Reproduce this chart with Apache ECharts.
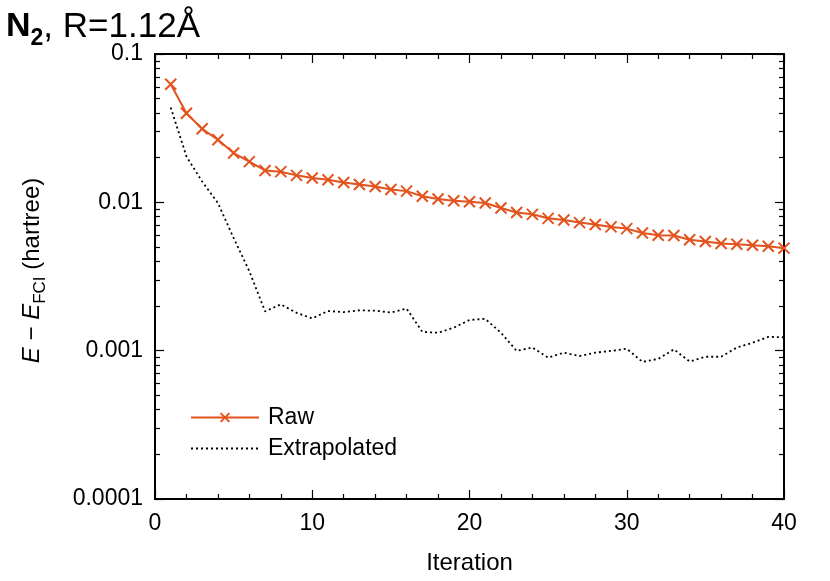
<!DOCTYPE html>
<html lang="en">
  <head>
    <meta charset="utf-8" />
    <title>N2 convergence</title>
    <script src="https://cdn.jsdelivr.net/npm/echarts@6/dist/echarts.min.js"></script>
    <style>
      html,
      body {
        margin: 0;
        padding: 0;
        background: #fff;
      }
      #chart1 {
        width: 830px;
        height: 581px;
      }
    </style>
  </head>
  <body>
    <div id="chart1"></div>
    <script type="text/javascript">
      var iterations = [];
      for (var i = 1; i <= 40; i++) iterations.push(i);

      var rawErr = [
        0.0625, 0.0399, 0.0313, 0.0264, 0.0215, 0.0188, 0.0164, 0.0161,
        0.0152, 0.0146, 0.0142, 0.0136, 0.0132, 0.0128, 0.0122, 0.0119,
        0.011, 0.01054, 0.01026, 0.0101, 0.0099, 0.00916, 0.00853, 0.0083,
        0.0078, 0.0076, 0.0073, 0.00708, 0.00683, 0.00665, 0.00622, 0.006,
        0.00597, 0.0056, 0.00544, 0.00528, 0.00522, 0.00514, 0.00506,
        0.00491,
      ];
      var extrapErr = [
        0.0436, 0.0204, 0.0138, 0.0099, 0.00575, 0.00343, 0.00184, 0.00205,
        0.0018, 0.00165, 0.00185, 0.00182, 0.00187, 0.00186, 0.00181,
        0.00192, 0.00134, 0.00132, 0.00143, 0.00161, 0.00164, 0.00132,
        0.000996, 0.00105, 0.000898, 0.00097, 0.00092, 0.00097, 0.000996,
        0.00103, 0.00084, 0.00088, 0.00102, 0.000845, 0.00091, 0.00091,
        0.00105, 0.00113, 0.00124, 0.00123,
      ];
      var yMajorTicks = [0.0001, 0.001, 0.01, 0.1];
      var yTickLabels = ["0.0001", "0.001", "0.01", "0.1"];
      var yMinorTicks = [];
      for (var e = -4; e < -1; e++) {
        for (var m = 2; m <= 9; m++) yMinorTicks.push(m * Math.pow(10, e));
      }

      var orange = "#e2531d";
      var font = "Liberation Sans, Arial, sans-serif";

      function pair(v) {
        var out = [];
        for (var k = 0; k < v.length; k++) out.push([iterations[k], v[k]]);
        return out;
      }

      // log axis; ticks placed at the given values
      function yAxisDef(pos, ticks, len, labels) {
        return {
          type: "log",
          logBase: 10,
          min: 0.0001,
          max: 0.1,
          position: pos,
          axisLine: { show: true, lineStyle: { color: "#000", width: 2 } },
          axisTick: {
            show: true,
            inside: true,
            length: len,
            customValues: ticks,
            lineStyle: { color: "#000", width: 1.2 },
          },
          axisLabel: labels
            ? {
                show: true,
                customValues: yMajorTicks,
                color: "#000",
                fontFamily: font,
                fontSize: 23,
                margin: 12,
                formatter: function (v) {
                  return yTickLabels[Math.round(Math.log10(v)) + 4];
                },
              }
            : { show: false },
          splitLine: { show: false },
          minorTick: { show: false },
        };
      }

      var myChart = echarts.init(document.getElementById("chart1"));
      myChart.setOption({
        animation: false,
        title: {
          left: 1,
          top: -1,
          text: "{b|N}{bs|2}{n|, R=1.12Å}",
          textStyle: {
            rich: {
              b: { fontFamily: font, fontSize: 34, fontWeight: "bold", color: "#000", lineHeight: 46, verticalAlign: "middle" },
              bs: { fontFamily: font, fontSize: 23, fontWeight: "bold", color: "#000", lineHeight: 46, verticalAlign: "bottom" },
              n: { fontFamily: font, fontSize: 35, fontWeight: "normal", color: "#000", lineHeight: 46, verticalAlign: "middle" },
            },
          },
        },
        legend: {
          orient: "vertical",
          left: 185,
          top: 401,
          itemWidth: 68,
          itemHeight: 11,
          itemGap: 8,
          textStyle: {
            color: "#000",
            fontFamily: font,
            fontSize: 23,
            padding: [0, 0, 0, 4],
          },
          data: [
            { name: "Raw" },
            { name: "Extrapolated", itemStyle: { opacity: 0 } },
          ],
        },
        grid: { left: 155, right: 46, top: 54, bottom: 82 },
        xAxis: [
          {
            type: "value",
            min: 0,
            max: 40,
            interval: 10,
            name: "Iteration",
            nameLocation: "middle",
            nameGap: 52,
            nameTextStyle: { color: "#000", fontFamily: font, fontSize: 24 },
            axisLine: { show: true, lineStyle: { color: "#000", width: 2 } },
            axisTick: { inside: true, length: 9, lineStyle: { color: "#000", width: 1.2 } },
            minorTick: { show: true, splitNumber: 5, length: 5, lineStyle: { color: "#000", width: 1.2 } },
            axisLabel: { color: "#000", fontFamily: font, fontSize: 23, margin: 13 },
            splitLine: { show: false },
          },
          {
            type: "value",
            min: 0,
            max: 40,
            interval: 10,
            position: "top",
            axisLine: { show: true, lineStyle: { color: "#000", width: 2 } },
            axisTick: { inside: true, length: 9, lineStyle: { color: "#000", width: 1.2 } },
            minorTick: { show: true, splitNumber: 5, length: 5, lineStyle: { color: "#000", width: 1.2 } },
            axisLabel: { show: false },
            splitLine: { show: false },
          },
        ],
        yAxis: [
          Object.assign(yAxisDef("left", yMajorTicks, 9, true), {
            name: "{i|E} − {i|E}{s|FCI} (hartree)",
            nameLocation: "middle",
            nameRotate: 90,
            nameGap: 106,
            nameTextStyle: {
              rich: {
                i: { fontFamily: font, fontSize: 24, fontStyle: "italic", color: "#000", lineHeight: 34, verticalAlign: "middle" },
                s: { fontFamily: font, fontSize: 17, color: "#000", lineHeight: 34, verticalAlign: "bottom" },
              },
              fontFamily: font,
              fontSize: 24,
              color: "#000",
              lineHeight: 34,
              padding: [0, 0, 0, 12],
            },
          }),
          yAxisDef("left", yMinorTicks, 5, false),
          yAxisDef("right", yMajorTicks, 9, false),
          yAxisDef("right", yMinorTicks, 5, false),
        ],
        series: [
          {
            name: "Raw",
            type: "line",
            data: pair(rawErr),
            symbol: "path://M0,0L10,10M10,0L0,10",
            symbolSize: 11,
            showSymbol: true,
            lineStyle: { color: orange, width: 2 },
            itemStyle: { color: orange, borderColor: orange, borderWidth: 2 },
            z: 3,
          },
          {
            name: "Extrapolated",
            type: "line",
            data: pair(extrapErr),
            symbol: "none",
            lineStyle: { color: "#000", width: 1.8, type: [2, 3] },
            itemStyle: { color: "#000" },
            z: 2,
          },
        ],
      });
    </script>
  </body>
</html>
